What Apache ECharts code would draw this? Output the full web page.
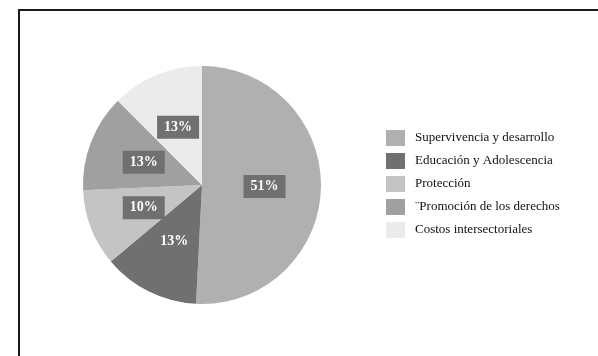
<!DOCTYPE html>
<html>
<head>
<meta charset="utf-8">
<script src="https://cdn.jsdelivr.net/npm/echarts@6/dist/echarts.min.js"></script>
<style>
  html, body { margin: 0; padding: 0; background: #fff; }
  #chart { width: 598px; height: 356px; }
</style>
</head>
<body>
<div id="chart"></div>
<script>
var categories = ['Supervivencia y desarrollo', 'Educación y Adolescencia', 'Protección', '¨Promoción de los derechos', 'Costos intersectoriales'];
var values = [50.8, 13.1, 10.4, 13.2, 12.5];
var colors = ['#b0b0b0', '#707070', '#c4c4c4', '#a0a0a0', '#ebebeb'];

var serif = '"Liberation Serif", "DejaVu Serif", serif';

var pieData = categories.map(function (name, i) {
  return { name: name, value: values[i], itemStyle: { color: colors[i] } };
});

var myChart = echarts.init(document.getElementById('chart'));
myChart.setOption({
  animation: false,
  graphic: [{
    type: 'rect',
    shape: { x: 19, y: 10, width: 700, height: 500 },
    style: { fill: 'none', stroke: '#1a1a1a', lineWidth: 2 },
    silent: true
  }],
  legend: {
    orient: 'vertical',
    left: 386,
    top: 130,
    padding: 0,
    itemWidth: 19,
    itemHeight: 16,
    itemGap: 7,
    icon: 'rect',
    data: categories,
    textStyle: {
      fontFamily: serif,
      fontSize: 13,
      color: '#111',
      padding: [0, 0, 0, 5]
    }
  },
  series: [{
    type: 'pie',
    center: [202, 185],
    radius: [0, 119],
    startAngle: 90,
    clockwise: true,
    data: pieData,
    itemStyle: { borderWidth: 0 },
    label: {
      show: true,
      position: 'inside',
      formatter: function (p) {
        return Math.round(p.percent) + '%';
      },
      fontFamily: serif,
      fontSize: 14,
      fontWeight: 'bold',
      color: '#fff',
      backgroundColor: '#707070',
      padding: [5, 7, 4, 7]
    },
    labelLine: { show: false },
    emphasis: { disabled: true }
  }]
});
</script>
</body>
</html>
